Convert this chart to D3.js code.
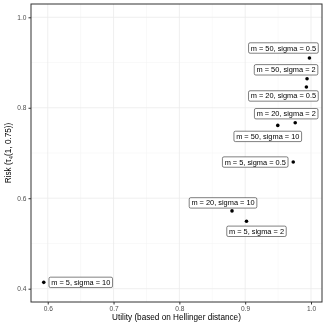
<!DOCTYPE html>
<html><head><meta charset="utf-8">
<script src="https://cdn.jsdelivr.net/npm/d3@7"></script>
<style>body{margin:0;background:#fff;} svg{will-change:transform;} text{font-family:"Liberation Sans",Arial,sans-serif;}</style>
</head><body><svg id="c" width="327" height="327"></svg>
<script>
const labels = ["m = 5, sigma = 10","m = 50, sigma = 0.5","m = 50, sigma = 2","m = 20, sigma = 0.5","m = 20, sigma = 2","m = 50, sigma = 10","m = 5, sigma = 0.5","m = 20, sigma = 10","m = 5, sigma = 2"];
const utility = [0.594,0.9976,0.994,0.993,0.976,0.9495,0.973,0.880,0.902];
const risk = [0.414,0.910,0.864,0.846,0.767,0.761,0.680,0.572,0.549];
const xTicks = [0.6,0.7,0.8,0.9,1.0];
const yTicks = [0.4,0.6,0.8,1.0];
// label layout (pixel offsets of label centre from its point), like ggrepel output
const labelOffsets = [[37,0],[-26,-10],[-21,-9],[-23,9],[-9,-9],[-10,11],[-38,0],[-9,-8],[10,10]];

const svg = d3.select("#c");
const L=31,R=322,T=4,B=302;
const x = d3.scaleLinear().domain([0.5746,1.0167]).range([L,R]);
const y = d3.scaleLinear().domain([0.3706,1.0294]).range([B,T]);
const g = svg.append("g");
const xMinor = [0.65,0.75,0.85,0.95], yMinor=[0.5,0.7,0.9];
g.selectAll(".xm").data(xMinor).enter().append("line").attr("x1",d=>x(d)).attr("x2",d=>x(d)).attr("y1",T).attr("y2",B).attr("stroke","#f3f3f3").attr("stroke-width",0.5);
g.selectAll(".ym").data(yMinor).enter().append("line").attr("y1",d=>y(d)).attr("y2",d=>y(d)).attr("x1",L).attr("x2",R).attr("stroke","#f3f3f3").attr("stroke-width",0.5);
g.selectAll(".xM").data(xTicks).enter().append("line").attr("x1",d=>x(d)).attr("x2",d=>x(d)).attr("y1",T).attr("y2",B).attr("stroke","#ebebeb").attr("stroke-width",0.8);
g.selectAll(".yM").data(yTicks).enter().append("line").attr("y1",d=>y(d)).attr("y2",d=>y(d)).attr("x1",L).attr("x2",R).attr("stroke","#ebebeb").attr("stroke-width",0.8);

const xa = svg.append("g").attr("transform",`translate(0,${B})`).call(d3.axisBottom(x).tickValues(xTicks).tickSize(2.5).tickPadding(2).tickFormat(d3.format(".1f")));
const ya = svg.append("g").attr("transform",`translate(${L},0)`).call(d3.axisLeft(y).tickValues(yTicks).tickSize(2.5).tickPadding(2).tickFormat(d3.format(".1f")));
[xa,ya].forEach(a=>{a.select(".domain").remove();a.selectAll("line").attr("stroke","#333");a.selectAll("text").attr("fill","#4d4d4d").style("font-size","6.6px").style("font-family","Liberation Sans, Arial, sans-serif");});

svg.append("rect").attr("x",L).attr("y",T).attr("width",R-L).attr("height",B-T).attr("fill","none").attr("stroke","#333").attr("stroke-width",1);

svg.selectAll(".pt").data(utility).enter().append("circle").attr("cx",d=>x(d)).attr("cy",(d,i)=>y(risk[i])).attr("r",1.8).attr("fill","#000");

labels.forEach((t,i)=>{
  const cx = x(utility[i])+labelOffsets[i][0], cy = y(risk[i])+labelOffsets[i][1];
  const lg = svg.append("g");
  const tx = lg.append("text").attr("x",cx).attr("y",cy).attr("text-anchor","middle").attr("dominant-baseline","central").style("font-size","7.4px").attr("fill","#000").text(t);
  const bb = tx.node().getBBox();
  lg.insert("rect","text").attr("x",bb.x-2.2).attr("y",cy-5.2).attr("width",bb.width+4.4).attr("height",10.4).attr("rx",1.5).attr("fill","#fff").attr("stroke","#000").attr("stroke-width",0.5);
});

svg.append("text").attr("x",(L+R)/2).attr("y",320).attr("text-anchor","middle").style("font-size","8.2px").attr("fill","#000").text("Utility (based on Hellinger distance)");
const yt = svg.append("text").attr("transform",`translate(11,${(T+B)/2}) rotate(-90)`).attr("text-anchor","middle").style("font-size","8.2px").attr("fill","#000");
yt.append("tspan").text("Risk (τ");
yt.append("tspan").attr("dy",1.5).style("font-size","5.8px").text("4");
yt.append("tspan").attr("dy",-1.5).text("(1, 0.75))");
</script></body></html>
